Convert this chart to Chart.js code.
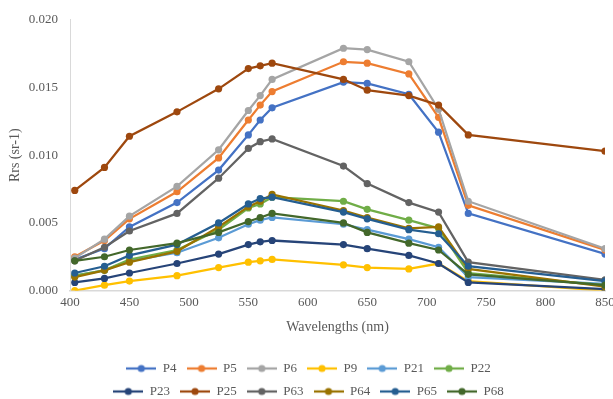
<!DOCTYPE html>
<html>
<head>
<meta charset="utf-8">
<script src="https://cdn.jsdelivr.net/npm/chart.js@4.4.1/dist/chart.umd.min.js"></script>
<style>
  html, body { margin: 0; padding: 0; background: #fff; }
  #wrap { width: 613px; height: 399px; }
</style>
</head>
<body>
<div id="wrap"><canvas id="myChart" width="613" height="399"></canvas></div>
<script>
// wavelengths (nm)
const wavelengths = [404, 429, 450, 490, 525, 550, 560, 570, 630, 650, 685, 710, 735, 850];

const P4  = [0.0023, 0.0031, 0.0047, 0.0065, 0.0089, 0.0115, 0.0126, 0.0135, 0.0154, 0.0153, 0.0145, 0.0117, 0.0057, 0.0027];
const P5  = [0.0025, 0.0037, 0.0053, 0.0073, 0.0098, 0.0126, 0.0137, 0.0147, 0.0169, 0.0168, 0.0160, 0.0128, 0.0063, 0.0030];
const P6  = [0.0024, 0.0038, 0.0055, 0.0077, 0.0104, 0.0133, 0.0144, 0.0156, 0.0179, 0.0178, 0.0169, 0.0134, 0.0066, 0.0031];
const P9  = [0.0000, 0.0004, 0.0007, 0.0011, 0.0017, 0.0021, 0.0022, 0.0023, 0.0019, 0.0017, 0.0016, 0.0020, 0.0007, 0.0000];
const P21 = [0.0011, 0.0015, 0.0022, 0.0028, 0.0039, 0.0049, 0.0052, 0.0054, 0.0049, 0.0045, 0.0038, 0.0032, 0.0010, 0.0005];
const P22 = [0.0011, 0.0015, 0.0023, 0.0030, 0.0045, 0.0061, 0.0064, 0.0069, 0.0066, 0.0060, 0.0052, 0.0046, 0.0013, 0.0004];
const P23 = [0.0006, 0.0009, 0.0013, 0.0020, 0.0027, 0.0034, 0.0036, 0.0037, 0.0034, 0.0031, 0.0026, 0.0020, 0.0006, 0.0001];
const P25 = [0.0074, 0.0091, 0.0114, 0.0132, 0.0149, 0.0164, 0.0166, 0.0168, 0.0156, 0.0148, 0.0144, 0.0137, 0.0115, 0.0103];
const P63 = [0.0022, 0.0032, 0.0044, 0.0057, 0.0083, 0.0105, 0.0110, 0.0112, 0.0092, 0.0079, 0.0065, 0.0058, 0.0021, 0.0008];
const P64 = [0.0010, 0.0015, 0.0021, 0.0029, 0.0047, 0.0062, 0.0066, 0.0071, 0.0059, 0.0054, 0.0046, 0.0047, 0.0016, 0.0003];
const P65 = [0.0013, 0.0018, 0.0026, 0.0034, 0.0050, 0.0064, 0.0068, 0.0069, 0.0058, 0.0053, 0.0045, 0.0042, 0.0018, 0.0007];
const P68 = [0.0022, 0.0025, 0.0030, 0.0035, 0.0043, 0.0051, 0.0054, 0.0057, 0.0050, 0.0043, 0.0035, 0.0030, 0.0012, 0.0004];

const seriesNames = ['P4', 'P5', 'P6', 'P9', 'P21', 'P22', 'P23', 'P25', 'P63', 'P64', 'P65', 'P68'];
const seriesValues = [P4, P5, P6, P9, P21, P22, P23, P25, P63, P64, P65, P68];
const seriesColors = ['#4472C4', '#ED7D31', '#A5A5A5', '#FFC000', '#5B9BD5', '#70AD47',
                      '#264478', '#9E480E', '#636363', '#997300', '#255E91', '#43682B'];

const FONT = "'Liberation Serif', 'Times New Roman', serif";
const TEXT = '#595959';
const LEGEND_W = 430; // legend band width -> six entries per row

// small line + dot marker for the legend
function legendMarker(color) {
  const c = document.createElement('canvas');
  c.width = 30; c.height = 10;
  const g = c.getContext('2d');
  g.strokeStyle = color; g.lineWidth = 2.25;
  g.beginPath(); g.moveTo(0, 5); g.lineTo(30, 5); g.stroke();
  g.fillStyle = color;
  g.beginPath(); g.arc(15, 5, 3.6, 0, Math.PI * 2); g.fill();
  return c;
}

// narrow the legend band so it wraps like the original (6 + 6)
const legendRows = {
  id: 'legendRows',
  beforeLayout(chart) {
    const lg = chart.legend;
    if (!lg || lg._patched) return;
    const fit = lg._fitRows;
    lg._fitRows = function () {
      const w = this.maxWidth;
      this.maxWidth = LEGEND_W;
      const h = fit.apply(this, arguments);
      this.maxWidth = w;
      return h;
    };
    lg._patched = true;
  },
  afterLayout(chart) {
    const lg = chart.legend;
    if (!lg) return;
    const cx = (lg.left + lg.right) / 2;
    lg.left = cx - LEGEND_W / 2;
    lg.right = cx + LEGEND_W / 2;
  }
};

const datasets = seriesNames.map((name, i) => ({
  label: name,
  data: wavelengths.map((w, j) => ({ x: w, y: seriesValues[i][j] })),
  borderColor: seriesColors[i],
  backgroundColor: seriesColors[i],
  borderWidth: 2.25,
  pointRadius: 3.6,
  pointHoverRadius: 4,
  pointBorderWidth: 0,
  tension: 0,
  order: seriesNames.length - i
}));

new Chart(document.getElementById('myChart'), {
  type: 'line',
  data: { datasets: datasets },
  plugins: [legendRows],
  options: {
    responsive: false,
    animation: false,
    layout: { padding: { left: 4, right: 0, top: 3, bottom: -9 } },
    plugins: {
      tooltip: { enabled: false },
      legend: {
        position: 'bottom',
        labels: {
          usePointStyle: true,
          pointStyleWidth: 30,
          padding: 10,
          color: TEXT,
          font: { family: FONT, size: 13 },
          generateLabels(chart) {
            return chart.data.datasets.map((ds, i) => ({
              text: ds.label,
              pointStyle: legendMarker(ds.borderColor),
              fillStyle: ds.borderColor,
              strokeStyle: ds.borderColor,
              lineWidth: 0,
              fontColor: TEXT,
              hidden: false,
              datasetIndex: i
            }));
          }
        }
      }
    },
    scales: {
      x: {
        type: 'linear',
        min: 400,
        max: 850,
        grid: { display: false, drawTicks: false },
        border: { display: true, color: '#d9d9d9', width: 1.5 },
        ticks: { stepSize: 50, color: TEXT, font: { family: FONT, size: 13 }, padding: 4 },
        title: {
          display: true,
          text: 'Wavelengths (nm)',
          color: TEXT,
          font: { family: FONT, size: 14 },
          padding: { top: 5, bottom: 16 }
        },
        afterFit(scale) { scale.paddingRight = 8; }
      },
      y: {
        min: 0,
        max: 0.02,
        grid: { display: false, drawTicks: false },
        border: { display: true, color: '#d9d9d9', width: 1 },
        ticks: {
          stepSize: 0.005,
          color: TEXT,
          font: { family: FONT, size: 13 },
          padding: 12,
          callback: (v) => v.toFixed(3)
        },
        title: {
          display: true,
          text: 'Rrs (sr-1)',
          color: TEXT,
          font: { family: FONT, size: 14 },
          padding: { top: 3, bottom: 0 }
        },
        afterFit(scale) { scale.width = 66; }
      }
    }
  }
});
</script>
</body>
</html>
